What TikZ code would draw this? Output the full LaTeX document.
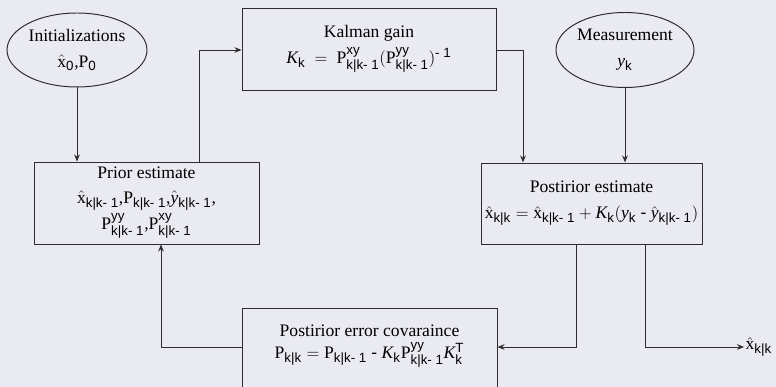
\documentclass[tikz,border=0pt]{standalone}
\usepackage{amsmath}
\usepackage{fontspec}
\setmainfont{Liberation Serif}
\setsansfont{Liberation Sans}
\DeclareMathSizes{12.5}{12.5}{9.5}{7.5}
\usetikzlibrary{arrows.meta,positioning,calc,shapes}
\definecolor{bgGray}{RGB}{234,234,242}
\definecolor{lineDark}{RGB}{45,45,45}
\newcommand{\kkm}{\textsf{k|k- 1}}
\newcommand{\kkk}{\textsf{k|k}}
\newcommand{\sk}{\textsf{k}}

\begin{document}
\begin{tikzpicture}[
    box/.style={draw=lineDark, line width=0.7pt, rectangle, align=center,
      font=\rmfamily\fontsize{12.5}{18.5}\selectfont, inner sep=2pt},
    oval/.style={draw=lineDark, line width=0.7pt, ellipse, align=center,
      font=\rmfamily\fontsize{12.5}{18.5}\selectfont, inner sep=0pt},
    flow/.style={-{Stealth[length=5pt,width=4pt]}, line width=0.7pt, lineDark}
  ]
    % background and frame
    \fill[bgGray] (0,0) rectangle (19.4,9.675);
    \useasboundingbox (0,0) rectangle (19.4,9.675);
    % inputs
    \node[oval, minimum width=3.5cm, minimum height=1.85cm] (init) at (1.925, 8.425)
      {Initializations\\ $\hat{\mathrm{x}}_{\textsf{0}}$,$\mathrm{P}_{\textsf{0}}$};
    \node[oval, minimum width=3.45cm, minimum height=1.875cm] (meas) at (15.625, 8.425)
      {Measurement\\ $\mathit{y}_{\sk}$};
    % filter steps
    \node[box, minimum width=6.35cm, minimum height=2.05cm] (gain) at (9.225, 8.45)
      {Kalman gain\\ $\mathit{K}_{\sk}\ =\ \mathrm{P}^{\textsf{xy}}_{\kkm}(\mathrm{P}^{\textsf{yy}}_{\kkm})^{\textsf{- 1}}$};
    \node[box, minimum width=5.625cm, minimum height=2.05cm] (prior) at (3.6625, 4.6)
      {Prior estimate\\[-1pt] $\hat{\mathrm{x}}_{\kkm}$,$\mathrm{P}_{\kkm}$,$\hat{\mathit{y}}_{\kkm}$,\\
       $\mathrm{P}^{\textsf{yy}}_{\kkm}$,$\mathrm{P}^{\textsf{xy}}_{\kkm}$};
    \node[box, minimum width=5.525cm, minimum height=2.025cm] (post) at (14.7875, 4.5875)
      {Postirior estimate\\ $\hat{\mathrm{x}}_{\kkk} = \hat{\mathrm{x}}_{\kkm} + \mathit{K}_{\sk}(\mathit{y}_{\sk}\ \textsf{-}\ \hat{\mathit{y}}_{\kkm})$};
    \node[box, minimum width=6.375cm, minimum height=2.05cm] (cov) at (9.2375, 0.95)
      {Postirior error covaraince\\[-3pt] $\mathrm{P}_{\kkk} = \mathrm{P}_{\kkm}\ \textsf{-}\ \mathit{K}_{\sk}\mathrm{P}^{\textsf{yy}}_{\kkm}\mathit{K}^{\textsf{T}}_{\sk}$\\[-8pt] \mbox{}};
    % output
    \node[font=\rmfamily\fontsize{12.5}{15}\selectfont, anchor=west, inner sep=1pt] (out) at (18.6, 1.0)
      {$\hat{\mathrm{x}}_{\kkk}$};
    % connectors
    \draw[flow] (init.south) -- (init.south |- prior.north);
    \draw[flow] ([xshift=1.3125cm]prior.north) |- ([yshift=-0.025cm]gain.west);
    \draw[flow] ([yshift=-0.025cm]gain.east) -| ([xshift=-1.7125cm]post.north);
    \draw[flow] (meas.south) -- (meas.south |- post.north);
    \draw[flow] ([xshift=-0.3875cm]post.south) |- ([yshift=0.05cm]cov.east);
    \draw[flow] ([xshift=1.3375cm]post.south) |- (out.west);
    \draw[flow] ([yshift=0.05cm]cov.west) -| ([xshift=0.3625cm]prior.south);
\end{tikzpicture}
\end{document}
